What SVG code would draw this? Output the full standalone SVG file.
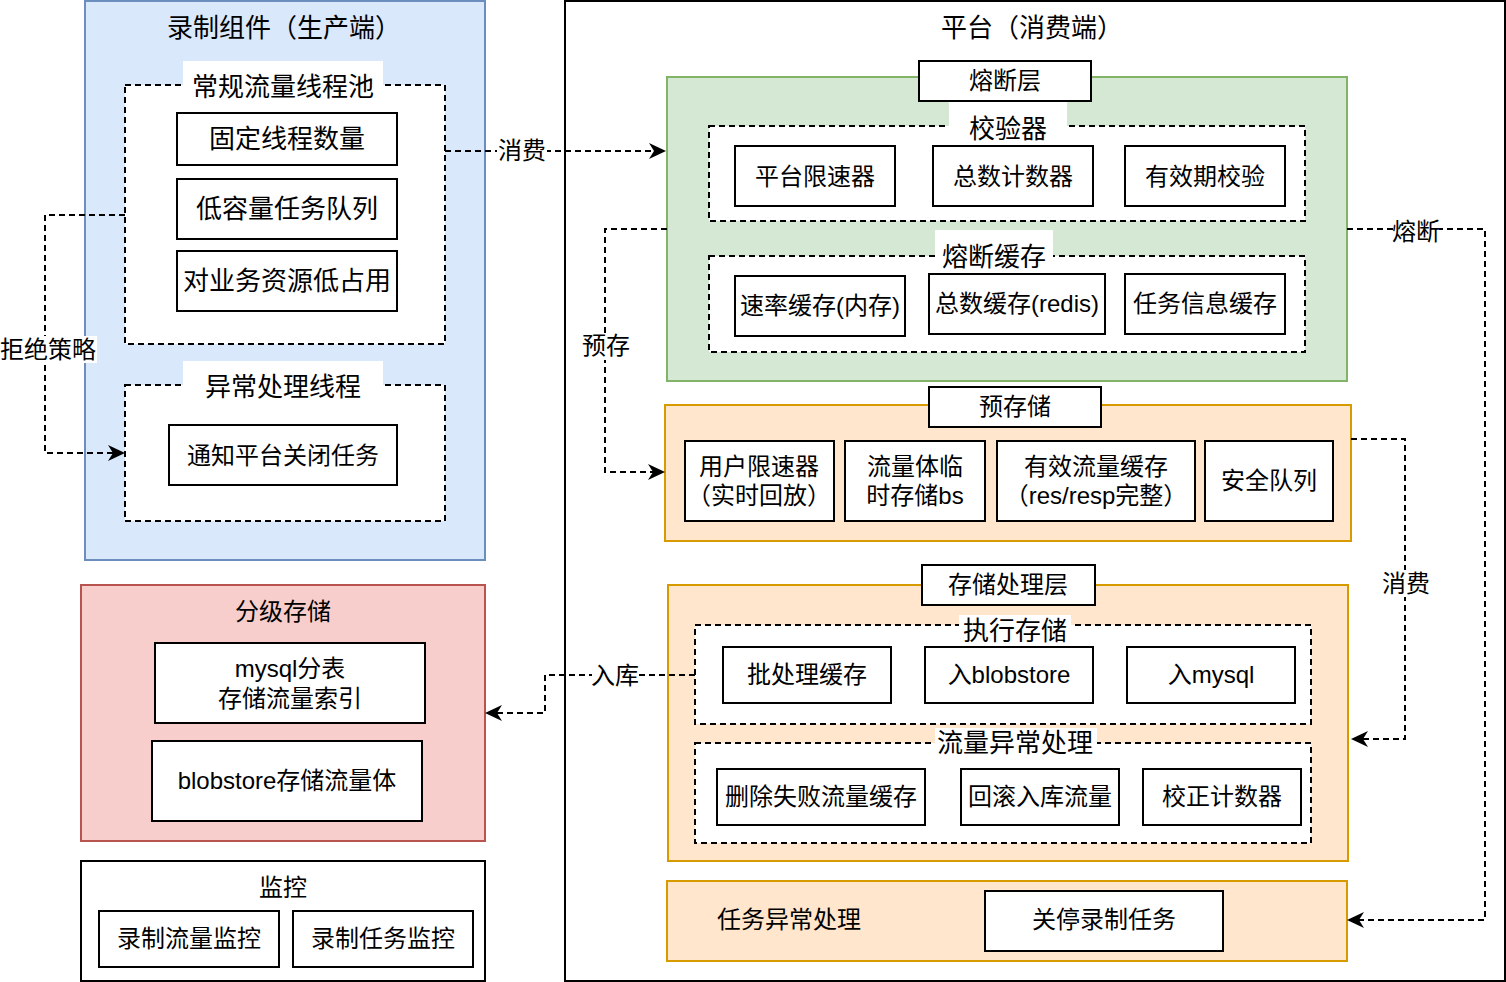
<svg xmlns="http://www.w3.org/2000/svg" width="1506" height="982" viewBox="0 0 1506 982">
<defs>
<style>
text{font-family:"Liberation Sans","Noto Sans CJK SC",sans-serif;font-size:24px;fill:#000;text-anchor:middle;dominant-baseline:central}
.big{font-size:26px}
.box{fill:#fff;stroke:#000;stroke-width:2}
.dash{fill:#fff;stroke:#000;stroke-width:2;stroke-dasharray:6 4}
.blue{fill:#dae8fc;stroke:#6c8ebf;stroke-width:2}
.green{fill:#d5e8d4;stroke:#82b366;stroke-width:2}
.orange{fill:#ffe6cc;stroke:#d79b00;stroke-width:2}
.red{fill:#f8cecc;stroke:#b85450;stroke-width:2}
.bg{fill:#fff;stroke:none}
.conn{fill:none;stroke:#000;stroke-width:2;stroke-dasharray:6 4}
</style>
<marker id="arr" markerUnits="userSpaceOnUse" markerWidth="18" markerHeight="16" refX="7" refY="8" orient="auto" viewBox="0 0 18 16">
<path d="M0,0 L17,8 L0,16 L5,8 z" fill="#000"/>
</marker>
</defs>
<rect width="1506" height="982" fill="#fff"/>

<g id="producer">
<rect class="blue" x="85" y="1" width="400" height="559"/>
<text class="big" x="284" y="28">录制组件（生产端）</text>
<rect class="dash" x="125" y="85" width="320" height="259"/>
<rect class="bg" x="183" y="61" width="200" height="34"/>
<text class="big" x="283" y="87">常规流量线程池</text>
<g id="fixed-threads"><rect class="box" x="177" y="113" width="220" height="52"/><text class="big" x="287" y="139">固定线程数量</text></g>
<g id="low-queue"><rect class="box" x="177" y="179" width="220" height="60"/><text class="big" x="287" y="209">低容量任务队列</text></g>
<g id="low-usage"><rect class="box" x="177" y="251" width="220" height="60"/><text class="big" x="287" y="281">对业务资源低占用</text></g>
<rect class="dash" x="125" y="385" width="320" height="136"/>
<rect class="bg" x="183" y="361" width="200" height="34"/>
<text class="big" x="283" y="387">异常处理线程</text>
<g id="notify-close"><rect class="box" x="169" y="425" width="228" height="60"/><text x="283" y="455">通知平台关闭任务</text></g>
</g>

<g id="tiered-storage">
<rect class="red" x="81" y="585" width="404" height="256"/>
<text x="283" y="611">分级存储</text>
<g id="mysql-shard"><rect class="box" x="155" y="643" width="270" height="80"/><text x="290" y="668">mysql分表</text><text x="290" y="698">存储流量索引</text></g>
<g id="blobstore-body"><rect class="box" x="152" y="741" width="270" height="80"/><text x="287" y="780">blobstore存储流量体</text></g>
</g>

<g id="monitor">
<rect class="box" x="81" y="861" width="404" height="120"/>
<text x="283" y="887">监控</text>
<g id="traffic-monitor"><rect class="box" x="99" y="911" width="180" height="56"/><text x="189" y="938">录制流量监控</text></g>
<g id="task-monitor"><rect class="box" x="293" y="911" width="180" height="56"/><text x="383" y="938">录制任务监控</text></g>
</g>

<g id="platform">
<rect class="box" x="565" y="1" width="940" height="980"/>
<text class="big" x="1032" y="28">平台（消费端）</text>
</g>

<g id="fuse-layer">
<rect class="green" x="667" y="77" width="680" height="304"/>
<rect class="dash" x="709" y="126" width="596" height="95"/>
<rect class="bg" x="949" y="101" width="118" height="34"/>
<text class="big" x="1008" y="129">校验器</text>
<rect class="dash" x="709" y="256" width="596" height="96"/>
<rect class="bg" x="935" y="230" width="118" height="34"/>
<text class="big" x="994" y="257">熔断缓存</text>
<g id="fuse-title"><rect class="box" x="919" y="61" width="172" height="40"/><text x="1005" y="80">熔断层</text></g>
<g id="platform-limiter"><rect class="box" x="735" y="146" width="160" height="60"/><text x="815" y="176">平台限速器</text></g>
<g id="total-counter"><rect class="box" x="933" y="146" width="160" height="60"/><text x="1013" y="176">总数计数器</text></g>
<g id="expiry-check"><rect class="box" x="1125" y="146" width="160" height="60"/><text x="1205" y="176">有效期校验</text></g>
<g id="rate-cache"><rect class="box" x="735" y="276" width="170" height="60"/><text x="820" y="305">速率缓存(内存)</text></g>
<g id="total-cache"><rect class="box" x="929" y="274" width="176" height="60"/><text x="1017" y="303">总数缓存(redis)</text></g>
<g id="task-cache"><rect class="box" x="1125" y="274" width="160" height="60"/><text x="1205" y="303">任务信息缓存</text></g>
</g>

<g id="pre-storage">
<rect class="orange" x="665" y="405" width="686" height="136"/>
<g id="pre-title"><rect class="box" x="929" y="387" width="172" height="40"/><text x="1015" y="406">预存储</text></g>
<g id="user-limiter"><rect class="box" x="685" y="441" width="149" height="80"/><text x="759" y="466">用户限速器</text><text x="759" y="495">（实时回放）</text></g>
<g id="temp-bs"><rect class="box" x="845" y="441" width="140" height="80"/><text x="915" y="466">流量体临</text><text x="915" y="495">时存储bs</text></g>
<g id="valid-cache"><rect class="box" x="997" y="441" width="198" height="80"/><text x="1096" y="466">有效流量缓存</text><text x="1096" y="495">（res/resp完整）</text></g>
<g id="safe-queue"><rect class="box" x="1205" y="441" width="128" height="80"/><text x="1269" y="480">安全队列</text></g>
</g>

<g id="storage-layer">
<rect class="orange" x="668" y="585" width="680" height="276"/>
<rect class="dash" x="695" y="625" width="616" height="99"/>
<rect class="bg" x="959" y="615" width="112" height="30"/>
<text class="big" x="1015" y="631">执行存储</text>
<rect class="dash" x="695" y="743" width="616" height="100"/>
<rect class="bg" x="935" y="728" width="162" height="30"/>
<text class="big" x="1015" y="743">流量异常处理</text>
<g id="storage-title"><rect class="box" x="922" y="565" width="173" height="40"/><text x="1008" y="584">存储处理层</text></g>
<g id="batch-cache"><rect class="box" x="723" y="647" width="168" height="56"/><text x="807" y="674">批处理缓存</text></g>
<g id="to-blobstore"><rect class="box" x="925" y="647" width="168" height="56"/><text x="1009" y="674">入blobstore</text></g>
<g id="to-mysql"><rect class="box" x="1127" y="647" width="168" height="56"/><text x="1211" y="674">入mysql</text></g>
<g id="delete-failed"><rect class="box" x="717" y="769" width="208" height="56"/><text x="821" y="796">删除失败流量缓存</text></g>
<g id="rollback"><rect class="box" x="961" y="769" width="158" height="56"/><text x="1040" y="796">回滚入库流量</text></g>
<g id="fix-counter"><rect class="box" x="1143" y="769" width="158" height="56"/><text x="1222" y="796">校正计数器</text></g>
</g>

<g id="task-exception">
<rect class="orange" x="667" y="881" width="680" height="80"/>
<text x="789" y="919">任务异常处理</text>
<g id="stop-task"><rect class="box" x="985" y="891" width="238" height="60"/><text x="1104" y="919">关停录制任务</text></g>
</g>

<g id="connectors">
<path class="conn" d="M125,215 H45 V453 H115" marker-end="url(#arr)"/>
<path class="conn" d="M445,151 H656" marker-end="url(#arr)"/>
<path class="conn" d="M667,229 H605 V472 H655" marker-end="url(#arr)"/>
<path class="conn" d="M1347,229 H1485 V920 H1357" marker-end="url(#arr)"/>
<path class="conn" d="M1351,439 H1405 V739 H1361" marker-end="url(#arr)"/>
<path class="conn" d="M695,675 H545 V713 H495" marker-end="url(#arr)"/>
<rect class="bg" x="0" y="336" width="97" height="27"/>
<text x="48" y="349">拒绝策略</text>
<rect class="bg" x="497" y="138" width="50" height="27"/>
<text x="522" y="150">消费</text>
<rect class="bg" x="583" y="333" width="46" height="27"/>
<text x="606" y="345">预存</text>
<rect class="bg" x="1393" y="218" width="46" height="27"/>
<text x="1416" y="231">熔断</text>
<rect class="bg" x="1383" y="570" width="46" height="27"/>
<text x="1406" y="583">消费</text>
<rect class="bg" x="592" y="662" width="46" height="27"/>
<text x="615" y="675">入库</text>
</g>
</svg>
